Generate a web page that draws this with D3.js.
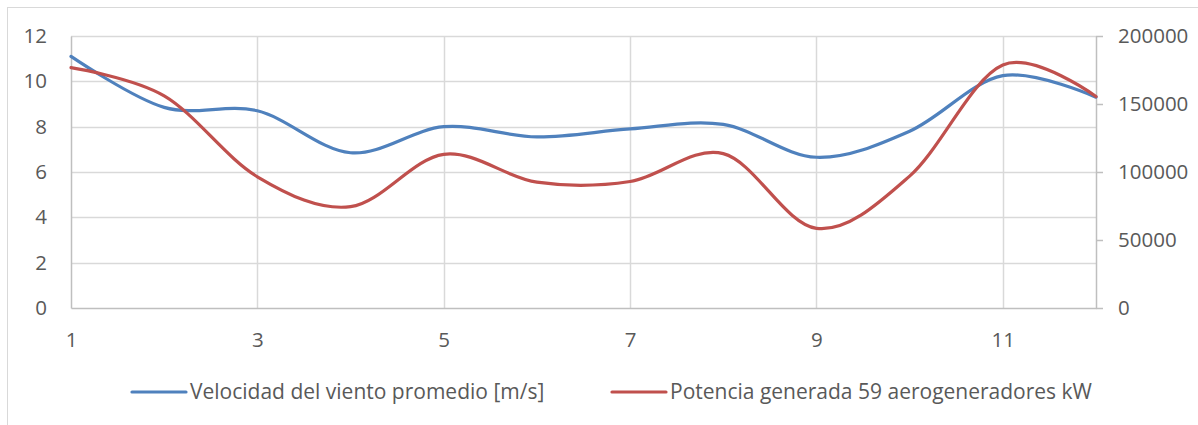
<!DOCTYPE html>
<html>
<head>
<meta charset="utf-8">
<script src="https://cdn.jsdelivr.net/npm/d3@7"></script>
<style>
  html, body { margin: 0; padding: 0; background: #fff; }
  svg { display: block; }
  text { font-family: "Open Sans", "Lato", sans-serif; fill: #595959; }
</style>
</head>
<body>
<script>
// ---- data ----
const months = [1, 2, 3, 4, 5, 6, 7, 8, 9, 10, 11, 12];
const windSpeed = [11.1, 8.85, 8.7, 6.85, 8.0, 7.55, 7.9, 8.1, 6.65, 7.8, 10.25, 9.3];
const power = [176700, 156000, 96500, 74500, 113000, 92500, 93000, 113500, 58600, 97000, 178700, 155500];
const xTicks = [1, 3, 5, 7, 9, 11];
const leftTicks = [0, 2, 4, 6, 8, 10, 12];
const rightTicks = [0, 50000, 100000, 150000, 200000];
const seriesNames = ["Velocidad del viento promedio [m/s]", "Potencia generada 59 aerogeneradores kW"];
const colors = ["#4F81BD", "#C0504D"];

const W = 1198, H = 425;
const svg = d3.select("body").append("svg").attr("width", W).attr("height", H);

// chart area border
svg.append("rect").attr("x", 7.5).attr("y", 7.5).attr("width", W + 10).attr("height", H + 10)
  .attr("fill", "#fff").attr("stroke", "#D9D9D9").attr("stroke-width", 1);

const x = d3.scaleLinear().domain([1, 12]).range([71, 1096]);
const yL = d3.scaleLinear().domain([0, 12]).range([308, 36]);
const yR = d3.scaleLinear().domain([0, 200000]).range([308, 36]);

// horizontal gridlines
const grid = svg.append("g");
grid.selectAll("line.h").data(leftTicks.filter(d => d > 0)).join("line")
  .attr("x1", x(1)).attr("x2", x(12))
  .attr("y1", d => Math.round(yL(d)) + 0.5).attr("y2", d => Math.round(yL(d)) + 0.5)
  .attr("stroke", "#D9D9D9").attr("stroke-width", 1.5);
// vertical gridlines
grid.selectAll("line.v").data(xTicks.filter(d => d > 1)).join("line")
  .attr("x1", d => Math.round(x(d)) + 0.5).attr("x2", d => Math.round(x(d)) + 0.5)
  .attr("y1", yL(12)).attr("y2", yL(0))
  .attr("stroke", "#D9D9D9").attr("stroke-width", 1.5);

// left axis (no ticks, line only)
const leftAxis = d3.axisLeft(yL).tickValues(leftTicks).tickSize(0).tickPadding(24).tickFormat(d3.format("d"));
const gL = svg.append("g").attr("transform", `translate(${x(1)},0)`).call(leftAxis);
gL.select(".domain").attr("stroke", "#BFBFBF").attr("stroke-width", 1.5);

// right axis with outward ticks
const rightAxis = d3.axisRight(yR).tickValues(rightTicks).tickSize(7).tickPadding(15).tickSizeOuter(0).tickFormat(d3.format("d"));
const gR = svg.append("g").attr("transform", `translate(${x(12)},0)`).call(rightAxis);
gR.select(".domain").attr("stroke", "#BFBFBF").attr("stroke-width", 1.5);
gR.selectAll(".tick line").attr("stroke", "#BFBFBF").attr("stroke-width", 1.5);

// bottom axis
const bottomAxis = d3.axisBottom(x).tickValues(xTicks).tickSize(0).tickPadding(24).tickFormat(d3.format("d"));
const gB = svg.append("g").attr("transform", `translate(0,${yL(0)})`).call(bottomAxis);
gB.select(".domain").attr("stroke", "#BFBFBF").attr("stroke-width", 1.5);

svg.selectAll(".tick text").attr("font-family", "Open Sans, Lato, sans-serif")
  .attr("font-size", 20.5).attr("fill", "#595959");

// lines
const curve = d3.curveCardinal.tension(0);
const lineL = d3.line().x((d, i) => x(months[i])).y(d => yL(d)).curve(curve);
const lineR = d3.line().x((d, i) => x(months[i])).y(d => yR(d)).curve(curve);
svg.append("path").datum(windSpeed).attr("d", lineL)
  .attr("fill", "none").attr("stroke", colors[0]).attr("stroke-width", 3.2).attr("stroke-linecap", "round");
svg.append("path").datum(power).attr("d", lineR)
  .attr("fill", "none").attr("stroke", colors[1]).attr("stroke-width", 3.2).attr("stroke-linecap", "round");

// legend
const legendItems = [
  { x1: 132, x2: 186, tx: 190, name: seriesNames[0], color: colors[0] },
  { x1: 612, x2: 666, tx: 670, name: seriesNames[1], color: colors[1] }
];
const lg = svg.append("g");
legendItems.forEach(it => {
  lg.append("line").attr("x1", it.x1).attr("x2", it.x2).attr("y1", 392).attr("y2", 392)
    .attr("stroke", it.color).attr("stroke-width", 3.2).attr("stroke-linecap", "round");
  lg.append("text").attr("x", it.tx).attr("y", 392).attr("dy", "0.35em")
    .attr("font-size", 21).text(it.name);
});
</script>
</body>
</html>
